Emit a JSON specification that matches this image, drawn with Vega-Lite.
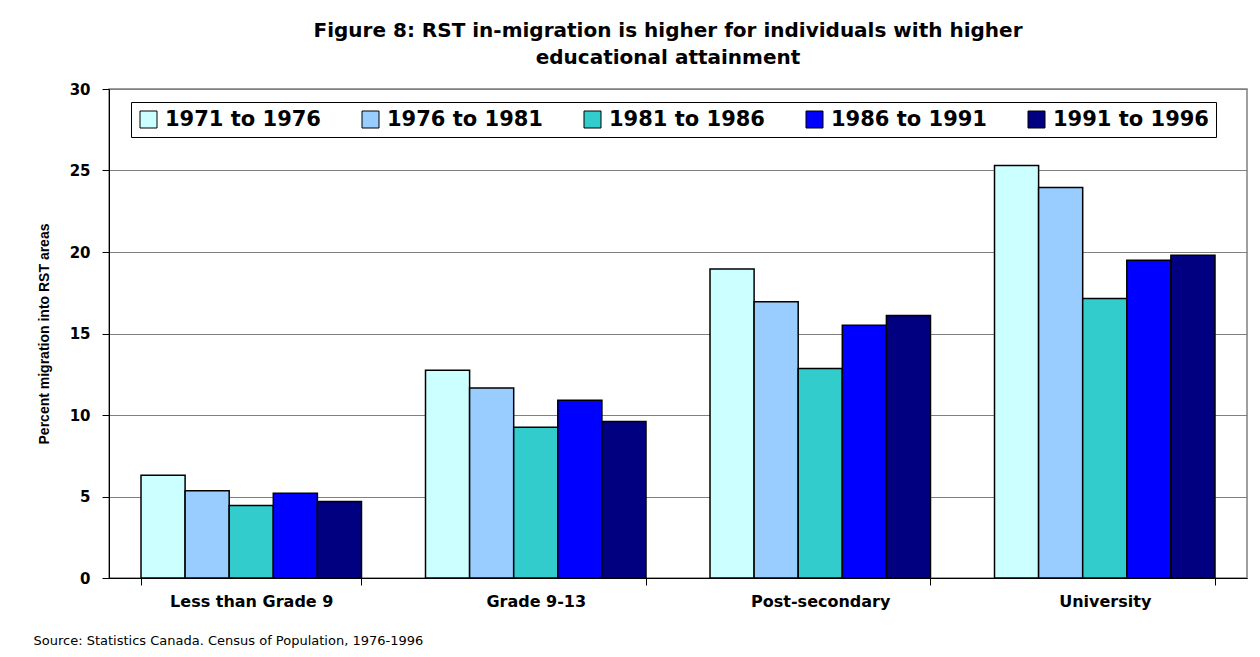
{
  "$schema": "https://vega.github.io/schema/vega-lite/v6.json",
  "width": 1138,
  "height": 489,
  "autosize": {"type": "none"},
  "padding": {"left": 109, "top": 89, "right": 13, "bottom": 79},
  "background": "white",
  "title": {
    "text": ["Figure 8: RST in-migration is higher for individuals with higher", "educational attainment"],
    "font": "DejaVu Sans",
    "fontSize": 20,
    "fontWeight": "bold",
    "color": "black",
    "anchor": "middle",
    "frame": "group",
    "dx": -10,
    "lineHeight": 27,
    "offset": 14
  },
  "data": {
    "values": [
      {"level": "Less than Grade 9", "period": "1971 to 1976", "pct": 6.3},
      {"level": "Less than Grade 9", "period": "1976 to 1981", "pct": 5.35},
      {"level": "Less than Grade 9", "period": "1981 to 1986", "pct": 4.45},
      {"level": "Less than Grade 9", "period": "1986 to 1991", "pct": 5.2},
      {"level": "Less than Grade 9", "period": "1991 to 1996", "pct": 4.7},
      {"level": "Grade 9-13", "period": "1971 to 1976", "pct": 12.75},
      {"level": "Grade 9-13", "period": "1976 to 1981", "pct": 11.65},
      {"level": "Grade 9-13", "period": "1981 to 1986", "pct": 9.25},
      {"level": "Grade 9-13", "period": "1986 to 1991", "pct": 10.9},
      {"level": "Grade 9-13", "period": "1991 to 1996", "pct": 9.6},
      {"level": "Post-secondary", "period": "1971 to 1976", "pct": 18.95},
      {"level": "Post-secondary", "period": "1976 to 1981", "pct": 16.95},
      {"level": "Post-secondary", "period": "1981 to 1986", "pct": 12.85},
      {"level": "Post-secondary", "period": "1986 to 1991", "pct": 15.5},
      {"level": "Post-secondary", "period": "1991 to 1996", "pct": 16.1},
      {"level": "University", "period": "1971 to 1976", "pct": 25.3},
      {"level": "University", "period": "1976 to 1981", "pct": 23.95},
      {"level": "University", "period": "1981 to 1986", "pct": 17.15},
      {"level": "University", "period": "1986 to 1991", "pct": 19.5},
      {"level": "University", "period": "1991 to 1996", "pct": 19.8}
    ]
  },
  "mark": {"type": "bar", "stroke": "black", "strokeWidth": 1.5},
  "encoding": {
    "x": {
      "field": "level",
      "type": "nominal",
      "sort": ["Less than Grade 9", "Grade 9-13", "Post-secondary", "University"],
      "scale": {"paddingInner": 0.225, "paddingOuter": 0.1125},
      "axis": {
        "title": "Source:  Statistics Canada.  Census of Population, 1976-1996",
        "titleFont": "DejaVu Sans",
        "titleFontSize": 13,
        "titleFontWeight": "normal",
        "titleColor": "black",
        "titleAnchor": "start",
        "titleAlign": "left",
        "titleBaseline": "alphabetic",
        "titleX": -76,
        "titleY": 66,
        "labelAngle": 0,
        "labelFont": "DejaVu Sans",
        "labelFontSize": 16,
        "labelFontWeight": "bold",
        "labelColor": "black",
        "labelPadding": 8,
        "tickBand": "extent",
        "tickSize": 7,
        "tickColor": "black",
        "domainColor": "black",
        "grid": false
      }
    },
    "xOffset": {
      "field": "period",
      "type": "nominal",
      "scale": {"paddingInner": 0, "paddingOuter": 0}
    },
    "y": {
      "field": "pct",
      "type": "quantitative",
      "scale": {"domain": [0, 30]},
      "axis": {
        "title": "Percent migration into RST areas",
        "titleFont": "Liberation Sans",
        "titleFontSize": 14,
        "titleFontWeight": "bold",
        "titleColor": "black",
        "titlePadding": 18,
        "values": [0, 5, 10, 15, 20, 25, 30],
        "labelFont": "DejaVu Sans",
        "labelFontSize": 15,
        "labelFontWeight": "bold",
        "labelColor": "black",
        "labelPadding": 12,
        "tickSize": 7,
        "tickColor": "black",
        "domainColor": "black",
        "gridColor": "#808080",
        "gridWidth": 1
      }
    },
    "fill": {
      "field": "period",
      "type": "nominal",
      "scale": {
        "domain": ["1971 to 1976", "1976 to 1981", "1981 to 1986", "1986 to 1991", "1991 to 1996"],
        "range": ["#CCFFFF", "#99CCFF", "#33CCCC", "#0000FF", "#000080"]
      },
      "legend": {
        "title": null,
        "orient": "none",
        "legendX": 22,
        "legendY": 13,
        "direction": "horizontal",
        "columns": 5,
        "strokeColor": "black",
        "fillColor": "white",
        "padding": 7,
        "labelFont": "DejaVu Sans",
        "labelFontSize": 21,
        "labelFontWeight": "bold",
        "labelColor": "black",
        "labelOffset": 6,
        "labelLimit": 300,
        "columnPadding": 39,
        "symbolType": "square",
        "symbolSize": 289,
        "symbolStrokeColor": "black",
        "symbolStrokeWidth": 1
      }
    }
  },
  "config": {
    "view": {"stroke": "#808080", "strokeWidth": 1.5}
  }
}
